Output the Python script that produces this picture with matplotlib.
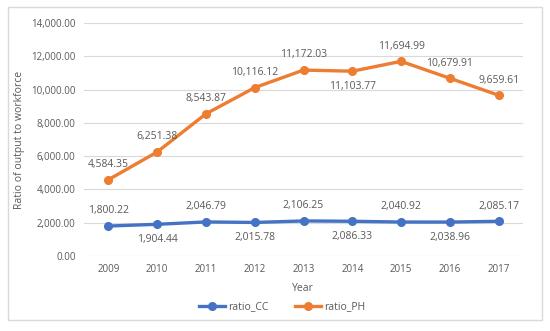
import numpy as np
import matplotlib.pyplot as plt
from matplotlib.patches import Rectangle

# ==========================
# Dati
# ==========================
years = ["2009", "2010", "2011", "2012", "2013", "2014", "2015", "2016", "2017"]
ratio_cc = [1800.22, 1904.44, 2046.79, 2015.78, 2106.25, 2086.33, 2040.92, 2038.96, 2085.17]
ratio_ph = [4584.35, 6251.38, 8543.87, 10116.12, 11172.03, 11103.77, 11694.99, 10679.91, 9659.61]
# +1 = label sopra, -1 = label sotto
cc_side = [1, -1, 1, -1, 1, -1, 1, -1, 1]
ph_side = [1, 1, 1, 1, 1, -1, 1, 1, 1]
yticks = [0, 2000, 4000, 6000, 8000, 10000, 12000, 14000]

BLUE = "#4472C4"
ORANGE = "#ED7D31"
TXT = "#595959"

plt.rcParams['font.family'] = ['Open Sans', 'DejaVu Sans']

fig = plt.figure(figsize=(5.5, 3.31), dpi=100)
ax = fig.add_axes([84/550, 1 - 256/331, (523-84)/550, (256-23)/331])

# bordo esterno del grafico
fig.patches.append(Rectangle((8/550, 1 - 320/331), (542-8)/550, (320-7)/331,
                             transform=fig.transFigure, fill=False,
                             edgecolor="#D9D9D9", linewidth=1.0))

x = np.arange(len(years))
ax.plot(x, ratio_cc, '-o', color=BLUE, linewidth=2.4, markersize=5.5, label='ratio_CC', zorder=3)
ax.plot(x, ratio_ph, '-o', color=ORANGE, linewidth=2.4, markersize=5.5, label='ratio_PH', zorder=3)

for xi, v, s in zip(x, ratio_cc, cc_side):
    ax.annotate(f"{v:,.2f}", (xi, v), xytext=(0, 7 * s), textcoords='offset points',
                ha='center', va='bottom' if s > 0 else 'top', fontsize=7.5, color=TXT)
for xi, v, s in zip(x, ratio_ph, ph_side):
    ax.annotate(f"{v:,.2f}", (xi, v), xytext=(0, 7 * s), textcoords='offset points',
                ha='center', va='bottom' if s > 0 else 'top', fontsize=7.5, color=TXT)

ax.set_xlim(-0.5, len(years) - 0.5)
ax.set_ylim(0, 14000)
ax.set_xticks(x)
ax.set_xticklabels(years)
ax.set_yticks(yticks)
ax.set_yticklabels([f"{v:,.2f}" for v in yticks])
ax.tick_params(length=0, labelsize=7, colors=TXT, pad=6)
ax.grid(axis='y', color="#D9D9D9", linewidth=0.8)
ax.set_axisbelow(True)
for sp in ax.spines.values():
    sp.set_visible(False)

ax.set_xlabel("Year", fontsize=7.5, color=TXT)
ax.xaxis.set_label_coords((303-84)/(523-84), -(283-256)/(256-23))
ax.set_ylabel("Ratio of output to workforce", fontsize=7.5, color=TXT)
ax.yaxis.set_label_coords(-(84-25)/(523-84), 0.5)

leg = fig.legend(loc='center', bbox_to_anchor=(282/550, 1 - 307/331), ncol=2,
                 frameon=False, fontsize=7.5, labelcolor=TXT, handlelength=2.5,
                 columnspacing=2.5, handletextpad=0.3)

fig.savefig("out.png", dpi=100)
